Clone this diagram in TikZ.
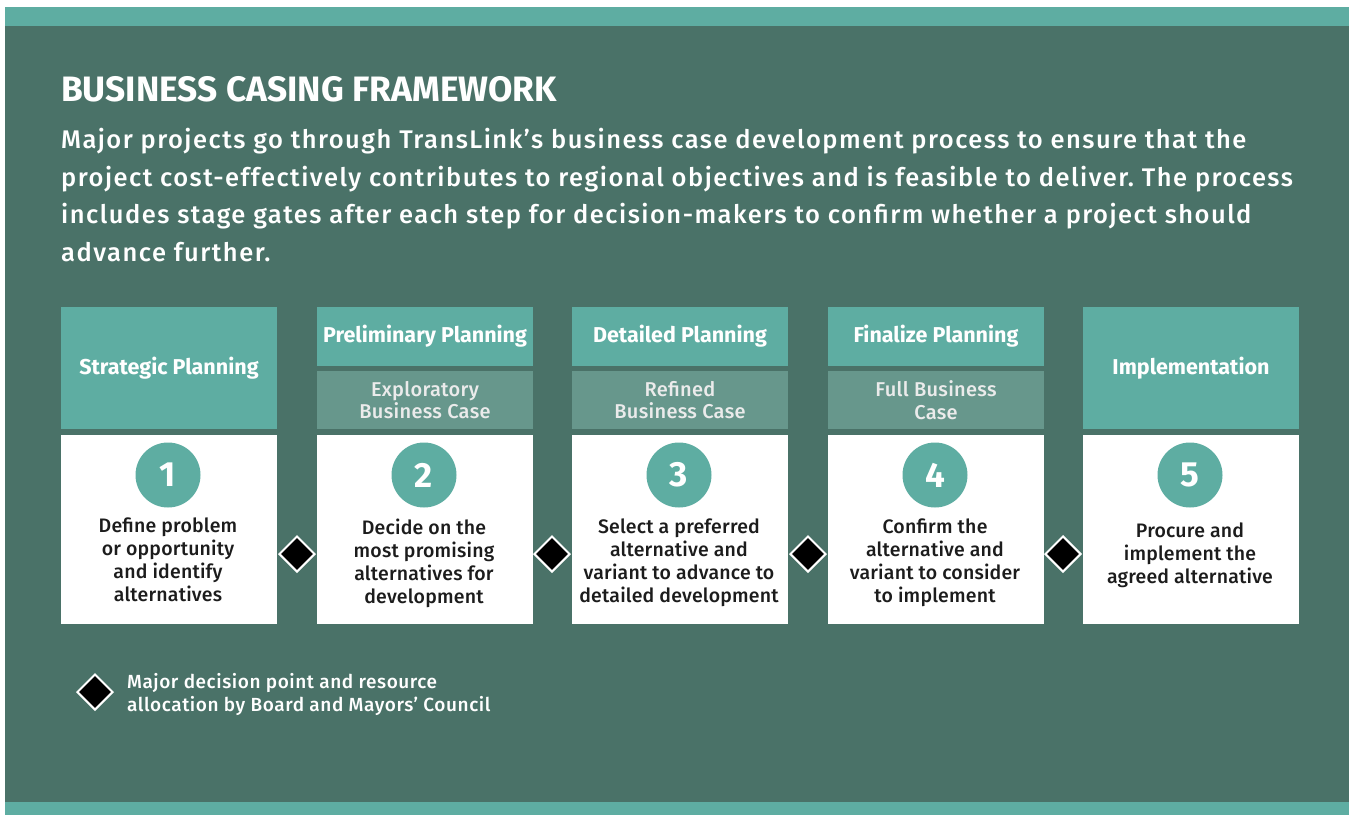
\documentclass[tikz,border=0pt]{standalone}
\usepackage{fontspec}
\setmainfont{Fira Sans}
\newfontfamily\fmed{Fira Sans Medium}
\usetikzlibrary{shapes.geometric}
\frenchspacing
\definecolor{bgdark}{HTML}{4A7268}
\definecolor{tealband}{HTML}{5EADA2}
\definecolor{subbox}{HTML}{67978C}
\definecolor{bodyink}{HTML}{1C1C1C}
\tikzset{
  headbox/.style={fill=tealband, draw=none, inner sep=0pt, text=white,
    font=\fontsize{21.5}{23}\selectfont\bfseries, align=center},
  casebox/.style={fill=subbox, draw=none, inner sep=0pt, text=white!92!black,
    font=\fmed\fontsize{20}{22.5}\selectfont\addfontfeature{LetterSpace=1.5}, align=center},
  stepbox/.style={fill=white, draw=none, inner sep=0pt},
  stepnum/.style={circle, fill=tealband, minimum size=65pt, inner sep=0pt,
    text=white, font=\fontsize{35}{35}\selectfont\bfseries},
  steptext/.style={text=bodyink, align=center, inner sep=0pt, anchor=north,
    font=\fmed\fontsize{19.5}{23}\selectfont\addfontfeature{LetterSpace=1}},
  gate/.style={diamond, aspect=1, fill=black, draw=white, line width=2pt,
    minimum size=36pt, inner sep=0pt},
  introline/.style={anchor=base west, inner sep=0pt, text=white,
    font=\fmed\fontsize{25.5}{37.5}\selectfont\addfontfeature{LetterSpace=5.8}},
  legendline/.style={anchor=base west, inner sep=0pt, text=white,
    font=\fmed\fontsize{19}{23}\selectfont\addfontfeature{LetterSpace=3}},
}
\begin{document}
\begin{tikzpicture}[x=1pt, y=-1pt]
  \useasboundingbox (0,0) rectangle (1350,815);
  % frame
  \fill[white] (0,0) rectangle (1350,815);
  \fill[tealband] (5,7) rectangle (1349,26);
  \fill[bgdark] (5,26) rectangle (1349,802);
  \fill[tealband] (5,802) rectangle (1349,815);

  % heading and intro
  \node[anchor=base west, inner sep=0pt, text=white,
    font=\fontsize{35.3}{35}\selectfont\bfseries] (title) at (61,101)
    {BUSINESS CASING FRAMEWORK};
  \node[introline] (intro1) at (61,148.5) {Major projects go through TransLink’s business case development process to ensure that the};
  \node[introline] (intro2) at (61,186) {project cost-effectively contributes to regional objectives and is feasible to deliver. The process};
  \node[introline] (intro3) at (61,223.5) {includes stage gates after each step for decision-makers to confirm whether a project should};
  \node[introline] (intro4) at (61,261) {advance further.};

  % column 1
  \node[headbox, minimum width=216pt, minimum height=122pt] (h1) at (169,368) {Strategic Planning};
  % columns 2-4: stage header plus business case box
  \node[headbox, minimum width=216pt, minimum height=59pt] (h2) at (425,336.5) {Preliminary Planning};
  \node[casebox, minimum width=216pt, minimum height=58pt] (c2) at (425,400) {Exploratory\\Business Case};
  \node[headbox, minimum width=216pt, minimum height=59pt] (h3) at (680,336.5) {Detailed Planning};
  \node[casebox, minimum width=216pt, minimum height=58pt] (c3) at (680,400) {Refined\\Business Case};
  \node[headbox, minimum width=216pt, minimum height=59pt] (h4) at (936,336.5) {Finalize Planning};
  \node[casebox, minimum width=216pt, minimum height=58pt] (c4) at (936,400) {Full Business\\Case};
  % column 5
  \node[headbox, minimum width=216pt, minimum height=122pt] (h5) at (1191,368) {Implementation};

  % step boxes
  \foreach \n/\x in {1/169, 2/425, 3/680, 4/936, 5/1191} {
    \node[stepbox, minimum width=216pt, minimum height=189pt] (s\n) at (\x,529.5) {};
    \node[stepnum] (n\n) at (\x-1,475) {\n};
  }
  \node[steptext] (t1) at ([yshift=-9.5pt]n1.south) {Define problem\\or opportunity\\and identify\\alternatives};
  \node[steptext] (t2) at ([yshift=-11pt]n2.south) {Decide on the\\most promising\\alternatives for\\development};
  \node[steptext] (t3) at ([yshift=-11pt]n3.south) {Select a preferred\\alternative and\\variant to advance to\\detailed development};
  \node[steptext] (t4) at ([yshift=-11pt]n4.south) {Confirm the\\alternative and\\variant to consider\\to implement};
  \node[steptext] (t5) at ([yshift=-15pt]n5.south) {Procure and\\implement the\\agreed alternative};

  % stage gates between steps
  \node[gate] (g1) at (297,554) {};
  \node[gate] (g2) at (552,554) {};
  \node[gate] (g3) at (808,554) {};
  \node[gate] (g4) at (1063,554) {};

  % legend
  \node[gate] (lg) at (95,692) {};
  \node[legendline] (lt1) at (127,688) {Major decision point and resource};
  \node[legendline] (lt2) at (127,711) {allocation by Board and Mayors’ Council};
\end{tikzpicture}
\end{document}
